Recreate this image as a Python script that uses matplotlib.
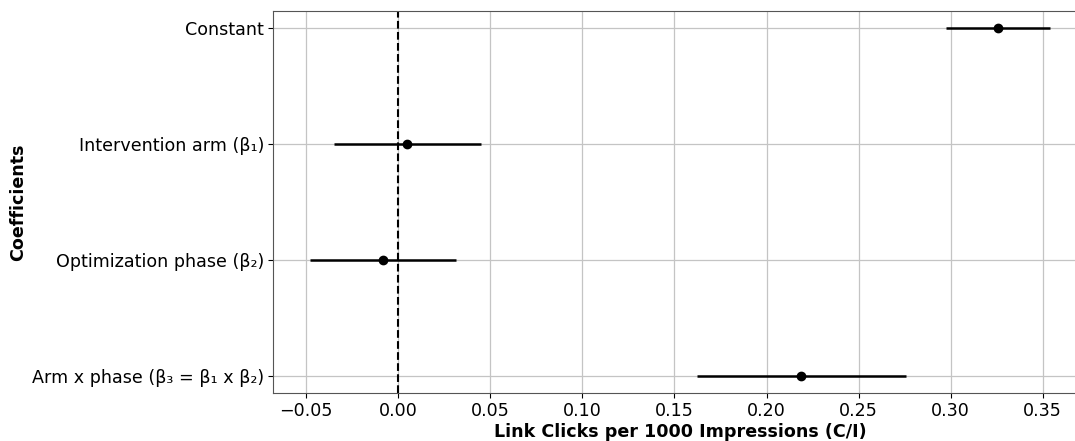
import numpy as np
import matplotlib.pyplot as plt

terms = ['Constant', 'Intervention arm (β₁)', 'Optimization phase (β₂)',
         'Arm x phase (β₃ = β₁ x β₂)']
coef = [0.326, 0.0047, -0.0086, 0.219]
ci_low = [0.2976, -0.035, -0.048, 0.162]
ci_high = [0.354, 0.045, 0.0315, 0.276]

coef = np.array(coef)
err = [coef - np.array(ci_low), np.array(ci_high) - coef]
ypos = np.arange(len(terms))

fig = plt.figure(figsize=(10.75, 4.41), dpi=100)
ax = fig.add_axes([273/1075, 1-393/441, (1087-273)/1075, (393-11)/441])

ax.errorbar(coef, ypos, xerr=err, fmt='o', color='black', ecolor='black',
            elinewidth=1.8, markersize=6, capsize=0, zorder=3)
ax.axvline(0, color='black', linestyle='--', linewidth=1.5, zorder=2)

ax.set_yticks(ypos)
ax.set_yticklabels(terms)
ax.invert_yaxis()
ax.set_xticks(np.arange(-0.05, 0.36, 0.05))
ax.tick_params(labelsize=12.6, pad=3)
ax.grid(True, color='#c4c4c4', linewidth=0.9)
ax.set_axisbelow(True)
for s in ax.spines.values():
    s.set_color('#555555')

ax.set_xlabel('Link Clicks per 1000 Impressions (C/I)', fontsize=12.6,
              fontweight='bold', labelpad=2)
ax.set_ylabel('Coefficients', fontsize=12.6, fontweight='bold')
ax.yaxis.set_label_coords((27 - 273) / 814, 0.5)

fig.savefig('out.png', dpi=100)
